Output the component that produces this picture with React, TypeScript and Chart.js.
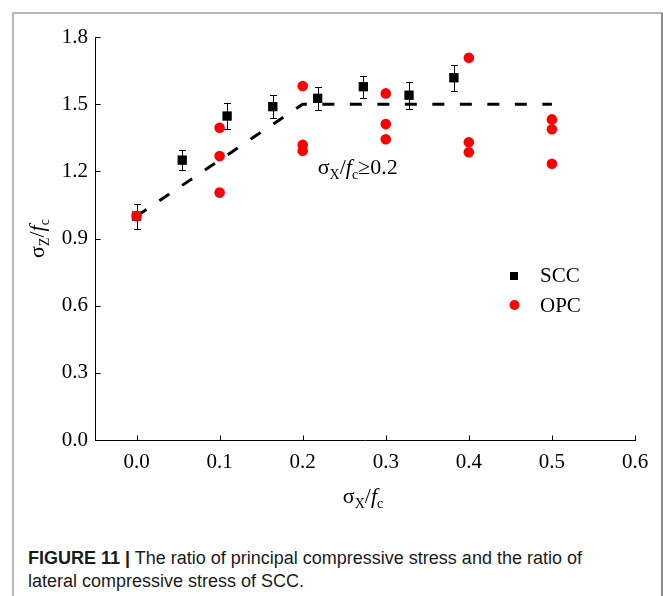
import React, { useEffect, useRef } from "react";
import { Chart, registerables } from "chart.js";

Chart.register(...registerables);

// ---- data ----
const xTicks = [0, 0.1, 0.2, 0.3, 0.4, 0.5, 0.6];
const yTicks = [0, 0.3, 0.6, 0.9, 1.2, 1.5, 1.8];

const sccX = [0, 0.055, 0.109, 0.164, 0.218, 0.273, 0.328, 0.382];
const sccY = [1.0, 1.25, 1.447, 1.489, 1.526, 1.578, 1.54, 1.618];
const sccErr = [0.056, 0.046, 0.06, 0.053, 0.05, 0.05, 0.06, 0.058];

const opcX = [0, 0.1, 0.1, 0.1, 0.2, 0.2, 0.2, 0.3, 0.3, 0.3, 0.4, 0.4, 0.4, 0.5, 0.5, 0.5];
const opcY = [1.0, 1.395, 1.268, 1.105, 1.581, 1.318, 1.292, 1.548, 1.411, 1.343, 1.707, 1.33, 1.285, 1.432, 1.388, 1.234];

const fitX = [0, 0.2, 0.5];
const fitY = [1.0, 1.5, 1.5];

const seriesLabels = ["SCC", "OPC"];

const SERIF = "'Liberation Serif', 'Times New Roman', serif";

type Run = { t: string; size: number; italic?: boolean; dy?: number };

function runsWidth(ctx: CanvasRenderingContext2D, runs: Run[]) {
  let w = 0;
  for (const r of runs) {
    ctx.font = `${r.italic ? "italic " : ""}${r.size}px ${SERIF}`;
    w += ctx.measureText(r.t).width;
  }
  return w;
}

function drawRuns(ctx: CanvasRenderingContext2D, runs: Run[], x: number, y: number) {
  let cx = x;
  ctx.textBaseline = "alphabetic";
  ctx.textAlign = "left";
  for (const r of runs) {
    ctx.font = `${r.italic ? "italic " : ""}${r.size}px ${SERIF}`;
    ctx.fillText(r.t, cx, y + (r.dy || 0));
    cx += ctx.measureText(r.t).width;
  }
}

const xTitle: Run[] = [
  { t: "σ", size: 22 },
  { t: "X", size: 14, dy: 5 },
  { t: "/", size: 22 },
  { t: "f", size: 22, italic: true },
  { t: "c", size: 14, dy: 5 },
];
const yTitle: Run[] = [
  { t: "σ", size: 22 },
  { t: "Z", size: 14, dy: 5 },
  { t: "/", size: 22 },
  { t: "f", size: 22, italic: true },
  { t: "c", size: 14, dy: 5 },
];
const annot: Run[] = [
  { t: "σ", size: 22 },
  { t: "X", size: 14, dy: 5 },
  { t: "/", size: 22 },
  { t: "f", size: 22, italic: true },
  { t: "c", size: 14, dy: 5 },
  { t: "≥0.2", size: 22 },
];

const overlay = {
  id: "overlay",
  beforeDatasetsDraw(chart: any) {
    const { ctx } = chart;
    const x = chart.scales.x;
    const y = chart.scales.y;
    ctx.save();
    ctx.strokeStyle = "#000";
    ctx.lineWidth = 1;
    sccX.forEach((xv, i) => {
      const px = Math.round(x.getPixelForValue(xv)) + 0.5;
      const top = Math.round(y.getPixelForValue(sccY[i] + sccErr[i])) + 0.5;
      const bot = Math.round(y.getPixelForValue(sccY[i] - sccErr[i])) + 0.5;
      ctx.beginPath();
      ctx.moveTo(px, top);
      ctx.lineTo(px, bot);
      ctx.moveTo(px - 3.5, top);
      ctx.lineTo(px + 3.5, top);
      ctx.moveTo(px - 3.5, bot);
      ctx.lineTo(px + 3.5, bot);
      ctx.stroke();
    });
    ctx.restore();
  },
  afterDraw(chart: any) {
    const { ctx, chartArea } = chart;
    const x = chart.scales.x;
    const y = chart.scales.y;
    ctx.save();
    // inward ticks
    ctx.strokeStyle = "#000";
    ctx.lineWidth = 1;
    ctx.beginPath();
    const by = Math.round(chartArea.bottom) + 0.5;
    xTicks.forEach((v) => {
      const px = Math.round(x.getPixelForValue(v)) + 0.5;
      ctx.moveTo(px, by);
      ctx.lineTo(px, by - 5);
    });
    const lx = Math.round(chartArea.left) + 0.5;
    yTicks.forEach((v) => {
      const py = Math.round(y.getPixelForValue(v)) + 0.5;
      ctx.moveTo(lx, py);
      ctx.lineTo(lx + 5, py);
    });
    ctx.stroke();

    ctx.fillStyle = "#000";
    // x title
    const xw = runsWidth(ctx, xTitle);
    drawRuns(ctx, xTitle, 363 - xw / 2, 503);
    // y title
    const yw = runsWidth(ctx, yTitle);
    ctx.save();
    ctx.translate(44, (chartArea.top + chartArea.bottom) / 2);
    ctx.rotate(-Math.PI / 2);
    drawRuns(ctx, yTitle, -yw / 2, 0);
    ctx.restore();
    // annotation
    drawRuns(ctx, annot, x.getPixelForValue(0.2) + 15, y.getPixelForValue(1.19));

    // legend
    ctx.fillStyle = "#000";
    ctx.fillRect(510, 272, 8, 8);
    ctx.fillStyle = "#ff0000";
    ctx.beginPath();
    ctx.arc(514.5, 305, 5, 0, Math.PI * 2);
    ctx.fill();
    ctx.fillStyle = "#000";
    ctx.font = `21px ${SERIF}`;
    ctx.textAlign = "left";
    ctx.textBaseline = "alphabetic";
    ctx.fillText(seriesLabels[0], 540, 282);
    ctx.fillText(seriesLabels[1], 540, 312);
    ctx.restore();
  },
};

export default function App() {
  const ref = useRef<HTMLCanvasElement>(null);
  useEffect(() => {
    const tickFont = { size: 21, family: SERIF };
    const chart = new Chart(ref.current as HTMLCanvasElement, {
      type: "scatter",
      data: {
        datasets: [
          {
            label: "OPC",
            data: opcX.map((xv, i) => ({ x: xv, y: opcY[i] })),
            pointStyle: "circle",
            pointRadius: 5.3,
            backgroundColor: "#ff0000",
            borderWidth: 0,
            order: 0,
          } as any,
          {
            label: "SCC",
            data: sccX.map((xv, i) => ({ x: xv, y: sccY[i] })),
            pointStyle: "rect",
            pointRadius: 6.6,
            backgroundColor: "#000",
            borderWidth: 0,
            order: 1,
          } as any,
          {
            type: "line",
            label: "fit",
            data: fitX.map((xv, i) => ({ x: xv, y: fitY[i] })),
            borderColor: "#000",
            borderWidth: 3,
            borderDash: [12, 15.5],
            pointRadius: 0,
            fill: false,
            tension: 0,
            order: 2,
          } as any,
        ],
      },
      options: {
        animation: false,
        responsive: false,
        events: [],
        layout: { padding: { left: 0, top: 37, right: 28, bottom: 0 } },
        plugins: { legend: { display: false }, tooltip: { enabled: false } },
        scales: {
          x: {
            type: "linear",
            min: -0.05,
            max: 0.6,
            afterBuildTicks: (s: any) => {
              s.ticks = xTicks.map((v) => ({ value: v }));
            },
            afterFit: (s: any) => {
              s.height = 90;
            },
            grid: { display: true, drawOnChartArea: false, drawTicks: false },
            border: { display: true, color: "#000", width: 1 },
            ticks: {
              padding: 10,
              color: "#000",
              font: tickFont,
              autoSkip: false,
              maxRotation: 0,
              callback: (v: any) => Number(v).toFixed(1),
            },
          },
          y: {
            type: "linear",
            min: 0,
            max: 1.8,
            afterBuildTicks: (s: any) => {
              s.ticks = yTicks.map((v) => ({ value: v }));
            },
            afterFit: (s: any) => {
              s.width = 95;
            },
            grid: { display: true, drawOnChartArea: false, drawTicks: false },
            border: { display: true, color: "#000", width: 1 },
            ticks: {
              padding: 7,
              color: "#000",
              font: tickFont,
              autoSkip: false,
              callback: (v: any) => Number(v).toFixed(1),
            },
          },
        },
      } as any,
      plugins: [overlay],
    });
    return () => chart.destroy();
  }, []);

  return (
    <div
      style={{
        position: "fixed",
        left: 0,
        top: 0,
        width: 663,
        height: 596,
        background: "#fff",
        overflow: "hidden",
      }}
    >
      <div
        style={{
          position: "absolute",
          left: 12,
          top: 12,
          width: 651,
          height: 700,
          boxSizing: "border-box",
          borderLeft: "2px solid #b8b8b8",
          borderTop: "2px solid #b8b8b8",
          borderRight: "2px solid #8a8a8a",
        }}
      />
      <canvas
        ref={ref}
        width={663}
        height={530}
        style={{ position: "absolute", left: 0, top: 0, width: 663, height: 530 }}
      />
      <div
        style={{
          position: "absolute",
          left: 28,
          top: 547,
          font: "18px 'Liberation Sans', Arial, sans-serif",
          lineHeight: "23px",
          color: "#1a1a1a",
          whiteSpace: "nowrap",
        }}
      >
        <b>FIGURE 11 |</b> The ratio of principal compressive stress and the ratio of
        <br />
        lateral compressive stress of SCC.
      </div>
    </div>
  );
}
